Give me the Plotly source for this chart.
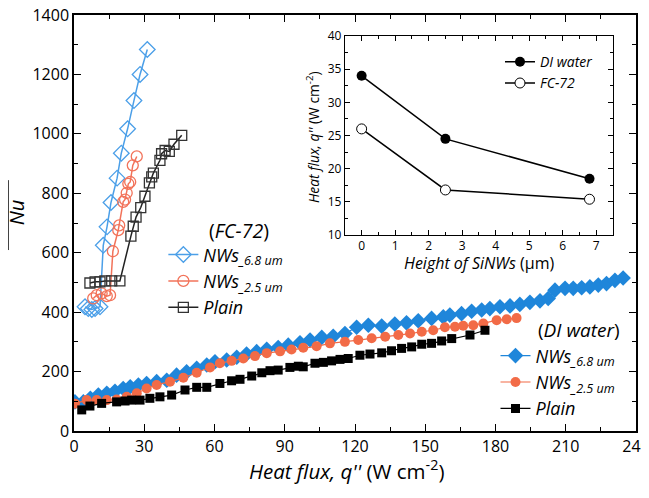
import plotly.graph_objects as go

# ---------------- data ----------------
# FC-72 (open markers)
fc_nw68_q = [4.7, 6.1, 7.6, 9.0, 11.1, 12.5, 14.1, 15.8, 18.4, 20.2, 22.9, 25.6, 28.2, 31.3]
fc_nw68_nu = [418, 412, 409, 412, 418, 625, 687, 769, 851, 935, 1017, 1112, 1200, 1284]

fc_nw25_q = [8.2, 9.7, 11.8, 14.0, 15.4, 16.6, 18.9, 19.3, 21.0, 21.8, 22.5, 23.2, 24.0, 25.1, 26.8]
fc_nw25_nu = [446, 457, 463, 454, 457, 605, 676, 692, 771, 779, 801, 832, 838, 894, 924]

fc_plain_q = [6.8, 9.0, 11.1, 13.2, 16.1, 19.6, 24.3, 25.3, 26.5, 28.5, 30.3, 32.2, 33.2, 33.9,
              36.7, 37.4, 38.9, 40.7, 42.7, 46.0]
fc_plain_nu = [498, 502, 502, 505, 505, 505, 656, 689, 720, 752, 790, 835, 855, 868,
               911, 933, 944, 941, 965, 995]

# DI water (filled markers)
di_nw68_q = [0.4, 4, 7, 10.4, 14, 17.5, 21, 24, 27.5, 31, 35.3, 39.6, 43.8, 48.1, 52.4, 56.7,
             60.2, 65.2, 69.5, 73.7, 78, 82.3, 87.2, 91.5, 96.5, 100.8, 105.8, 110.7, 115.7,
             120.7, 125.7, 131.4, 137, 142, 147, 152.7, 157.7, 160.5, 165.5, 169.8, 174.1,
             177.6, 181.9, 186.2, 190.4, 194.7, 199, 202.5, 205.4, 209.7, 213.2, 216.8, 220.3,
             223.9, 227.4, 231, 234.5]
di_nw68_nu = [98, 98, 110, 121, 127, 134, 143, 149, 155, 160, 166, 171, 188, 199, 211, 222,
              233, 239, 248, 259, 267, 275, 281, 289, 297, 306, 315, 319, 328,
              349, 356, 353, 360, 364, 371, 379, 384, 390, 395, 403, 407,
              412, 418, 421, 426, 433, 438, 446, 474, 480, 480, 482, 485,
              491, 496, 507, 515]

di_nw25_q = [0.4, 5.4, 9.7, 14, 18.2, 22.5, 26.8, 31, 35.3, 41, 46.7, 52.4, 58.1, 62.3, 67.3,
             72.3, 77.3, 82.3, 88, 92.9, 97.9, 103.6, 109.3, 115.7, 121.4, 127.1, 132.9, 138.5,
             143.5, 148.5, 153.4, 158.4, 162.7, 166.2, 170.5, 174.8, 180.5, 184.8, 189]
di_nw25_nu = [92, 104, 104, 104, 106, 115, 127, 143, 155, 166, 179, 196, 214, 228, 236,
              244, 252, 262, 268, 274, 280, 285, 295, 300, 306, 312, 317, 323,
              328, 334, 339, 349, 351, 354, 356, 362, 373, 376, 380]

di_plain_q = [3.3, 6.8, 11.8, 18.2, 21.8, 24.6, 28.2, 32.4, 36.7, 41.7, 47.4, 52.4, 56.7, 62.3,
              67.3, 70.9, 75.9, 80.2, 83.7, 87.2, 92.2, 95.8, 97.9, 102.9, 106.5, 110, 113.6,
              117.1, 122.1, 126.4, 131.4, 135.6, 139.9, 144.2, 148.5, 152.7, 157, 161.3,
              169.1, 175.5]
di_plain_nu = [71, 84, 93, 98, 101, 104, 104, 110, 115, 121, 138, 147, 147, 160,
               169, 174, 185, 196, 203, 205, 214, 218, 216, 228, 231, 236, 241,
               244, 255, 259, 263, 270, 278, 283, 292, 295, 303, 311,
               323, 339]

# inset: heat flux vs nanowire height
inset_h = [0, 2.5, 6.8]
inset_di = [34.0, 24.5, 18.5]
inset_fc = [26.0, 16.8, 15.4]

main_xticks = [0, 30, 60, 90, 120, 150, 180, 210, 240]
main_yticks = [0, 200, 400, 600, 800, 1000, 1200, 1400]
inset_xticks = [0, 1, 2, 3, 4, 5, 6, 7]
inset_yticks = [10, 15, 20, 25, 30, 35, 40]

# ---------------- styling ----------------
FONT = "Open Sans"
BLUE_D = "#1f86da"
RED_D = "#f26b47"
BLUE_O = "#4b9fe8"
RED_O = "#f2735a"

fig = go.Figure()

def sub(name, s):
    return f"<i>{name}<sub>{s}</sub></i>"

# FC-72 traces
fig.add_trace(go.Scatter(x=fc_nw68_q, y=fc_nw68_nu, mode="lines+markers", name=sub("NWs", "_6.8 um"),
                         line=dict(color=BLUE_O, width=1.5),
                         marker=dict(symbol="diamond-open", size=12, color=BLUE_O, line=dict(width=1.3)),
                         legend="legend"))
fig.add_trace(go.Scatter(x=fc_nw25_q, y=fc_nw25_nu, mode="lines+markers", name=sub("NWs", "_2.5 um"),
                         line=dict(color=RED_O, width=1.5),
                         marker=dict(symbol="circle-open", size=11, color=RED_O, line=dict(width=1.3)),
                         legend="legend"))
fig.add_trace(go.Scatter(x=fc_plain_q, y=fc_plain_nu, mode="lines+markers", name="<i>Plain</i>",
                         line=dict(color="#222222", width=1.5),
                         marker=dict(symbol="square-open", size=10, color="#333333", line=dict(width=1.3)),
                         legend="legend"))

# DI water traces
fig.add_trace(go.Scatter(x=di_nw68_q, y=di_nw68_nu, mode="lines+markers", name=sub("NWs", "_6.8 um"),
                         line=dict(color=BLUE_D, width=1.2),
                         marker=dict(symbol="diamond", size=12, color=BLUE_D),
                         legend="legend2"))
fig.add_trace(go.Scatter(x=di_nw25_q, y=di_nw25_nu, mode="lines+markers", name=sub("NWs", "_2.5 um"),
                         line=dict(color=RED_D, width=1.2),
                         marker=dict(symbol="circle", size=10, color=RED_D),
                         legend="legend2"))
fig.add_trace(go.Scatter(x=di_plain_q, y=di_plain_nu, mode="lines+markers", name="<i>Plain</i>",
                         line=dict(color="black", width=1.2),
                         marker=dict(symbol="square", size=9, color="black"),
                         legend="legend2"))

# inset traces
fig.add_trace(go.Scatter(x=inset_h, y=inset_di, mode="lines+markers", name="<i>DI water</i>",
                         xaxis="x2", yaxis="y2",
                         line=dict(color="black", width=1.5),
                         marker=dict(symbol="circle", size=10, color="black"),
                         legend="legend3"))
fig.add_trace(go.Scatter(x=inset_h, y=inset_fc, mode="lines+markers", name="<i>FC-72</i>",
                         xaxis="x2", yaxis="y2",
                         line=dict(color="black", width=1.5),
                         marker=dict(symbol="circle", size=10, color="white", line=dict(color="black", width=1)),
                         legend="legend3"))

axis_common = dict(showgrid=False, zeroline=False, showline=True, linecolor="black",
                   mirror="ticks", ticks="inside", tickcolor="black", automargin=False,
                   ticklabeloverflow="allow")

# the page has an 8px body margin, so the figure is sized to the visible area
fig.update_layout(
    width=641, height=490,
    margin=dict(l=66, r=13, t=7, b=67, autoexpand=False),
    paper_bgcolor="white", plot_bgcolor="white",
    font=dict(family=FONT, color="black"),
    showlegend=True,
    xaxis=dict(**axis_common, range=[0, 240], tickvals=main_xticks, linewidth=1.5,
               ticklen=7, tickwidth=1.3, tickfont=dict(size=16),
               minor=dict(dtick=15, tick0=0, ticklen=4, ticks="inside", tickcolor="black")),
    yaxis=dict(**axis_common, range=[0, 1400], tickvals=main_yticks, linewidth=1.5,
               ticklen=7, tickwidth=1.3, tickfont=dict(size=16),
               minor=dict(dtick=100, tick0=0, ticklen=4, ticks="inside", tickcolor="black")),
    xaxis2=dict(**axis_common, domain=[0.482, 0.959], anchor="y2", range=[-0.5, 7.5],
                tickvals=inset_xticks, linewidth=1, ticklen=5, tickfont=dict(size=12),
                minor=dict(dtick=0.5, tick0=0, ticklen=3, ticks="inside", tickcolor="black")),
    yaxis2=dict(**axis_common, domain=[0.471, 0.9495], anchor="x2", range=[10, 40],
                tickvals=inset_yticks, linewidth=1, ticklen=5, tickfont=dict(size=12),
                minor=dict(dtick=2.5, tick0=10, ticklen=3, ticks="inside", tickcolor="black")),
    legend=dict(x=0.159, y=0.468, xanchor="left", yanchor="top", bgcolor="rgba(0,0,0,0)",
                font=dict(size=18), tracegroupgap=0, itemwidth=30),
    legend2=dict(x=0.750, y=0.225, xanchor="left", yanchor="top", bgcolor="rgba(0,0,0,0)",
                 font=dict(size=18), tracegroupgap=0, itemwidth=30),
    legend3=dict(x=0.758, y=0.925, xanchor="left", yanchor="top", bgcolor="rgba(0,0,0,0)",
                 font=dict(size=14), tracegroupgap=0, itemwidth=30),
    annotations=[
        dict(text="(<i>FC-72</i>)", x=0.237, y=0.483, xref="paper", yref="paper",
             xanchor="left", yanchor="middle", showarrow=False, font=dict(size=19.5)),
        dict(text="(<i>DI water</i>)", x=0.822, y=0.243, xref="paper", yref="paper",
             xanchor="left", yanchor="middle", showarrow=False, font=dict(size=19)),
        # main axis titles
        dict(text="<i>Heat flux, q''</i> (W cm<sup>-2</sup>)", x=0.484, y=-0.094, xref="paper", yref="paper",
             xanchor="center", yanchor="middle", showarrow=False, font=dict(size=20.5)),
        dict(text="<i>Nu</i>", x=-0.103, y=0.526, xref="paper", yref="paper", textangle=-90,
             xanchor="center", yanchor="middle", showarrow=False, font=dict(size=20)),
        # inset axis titles
        dict(text="<i>Height of SiNWs</i> (μm)", x=0.7206, y=0.404, xref="paper", yref="paper",
             xanchor="center", yanchor="middle", showarrow=False, font=dict(size=16)),
        dict(text="<i>Heat flux, q''</i> (W cm<sup>-2</sup>)", x=0.4244, y=0.7055, xref="paper", yref="paper",
             textangle=-90, xanchor="center", yanchor="middle", showarrow=False, font=dict(size=13.8)),
    ],
    shapes=[
        dict(type="line", xref="paper", yref="paper", x0=-0.117, x1=-0.117, y0=0.435, y1=0.603,
             line=dict(color="black", width=1)),
    ],
)

fig.write_html("out.html")
